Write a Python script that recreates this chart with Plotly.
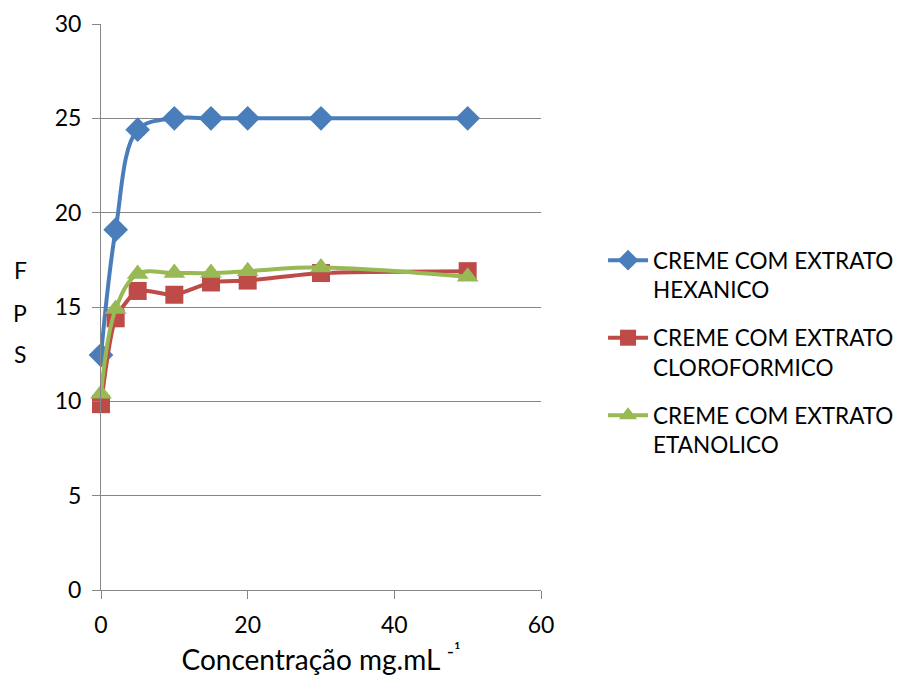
import plotly.graph_objects as go

conc = [0, 2, 5, 10, 15, 20, 30, 50]
hexanico = [12.45, 19.1, 24.4, 25.0, 25.0, 25.0, 25.0, 25.0]
cloroformico = [9.85, 14.4, 15.85, 15.65, 16.3, 16.4, 16.8, 16.9]
etanolico = [10.4, 14.9, 16.75, 16.8, 16.8, 16.9, 17.1, 16.6]

names = ["CREME COM EXTRATO<br>HEXANICO", "CREME COM EXTRATO<br>CLOROFORMICO", "CREME COM EXTRATO<br>ETANOLICO"]
colors = ["#4A7EBB", "#BE4B48", "#98B954"]
symbols = ["diamond", "square", "triangle-up"]
sizes = [19, 18, 19]
series = [hexanico, cloroformico, etanolico]
smooth = [1.0, 0.6, 1.0]

FONT = "Lato, 'Open Sans', sans-serif"

fig = go.Figure()
for i, (name, vals, col, sym, sz, sm) in enumerate(zip(names, series, colors, symbols, sizes, smooth)):
    fig.add_trace(go.Scatter(
        x=conc, y=vals, name=name, mode="lines+markers", legendgroup="g%d" % i,
        line=dict(color=col, width=4, shape="spline", smoothing=sm),
        marker=dict(symbol=sym, size=sz, color=col),
        cliponaxis=False,
    ))

fig.update_layout(
    width=901, height=682,
    margin=dict(l=101, r=360, t=24, b=92, autoexpand=False),
    plot_bgcolor="white", paper_bgcolor="white",
    font=dict(family=FONT, size=23, color="black"),
    showlegend=True,
    legend=dict(x=1.141, y=0.62, xanchor="left", yanchor="top", valign="top",
                font=dict(family=FONT, size=22.5, color="black"),
                tracegroupgap=16, itemwidth=40),
    xaxis=dict(range=[0, 60], dtick=20, showgrid=False, zeroline=False,
               showline=True, linecolor="#868686", linewidth=1,
               ticks="outside", ticklen=8, tickcolor="#868686",
               ticklabelstandoff=6, automargin=False,
               title=dict(text="Concentração mg.mL <sup>-¹</sup>", font=dict(size=28), standoff=13)),
    yaxis=dict(range=[0, 30], dtick=5, showgrid=True, gridcolor="#868686", gridwidth=1,
               zeroline=False, showline=True, linecolor="#868686", linewidth=1,
               ticks="outside", ticklen=8, tickcolor="#868686",
               ticklabelstandoff=6, automargin=False),
)

for i, (letter, yc) in enumerate(zip(["F", "P", "S"], [270, 313, 354])):
    fig.add_annotation(text=letter, xref="paper", yref="paper",
                       x=(20 - 101) / 440, y=(590 - yc) / 566,
                       showarrow=False, font=dict(size=23, family=FONT),
                       xanchor="center", yanchor="middle")

fig.write_html("out.html")
